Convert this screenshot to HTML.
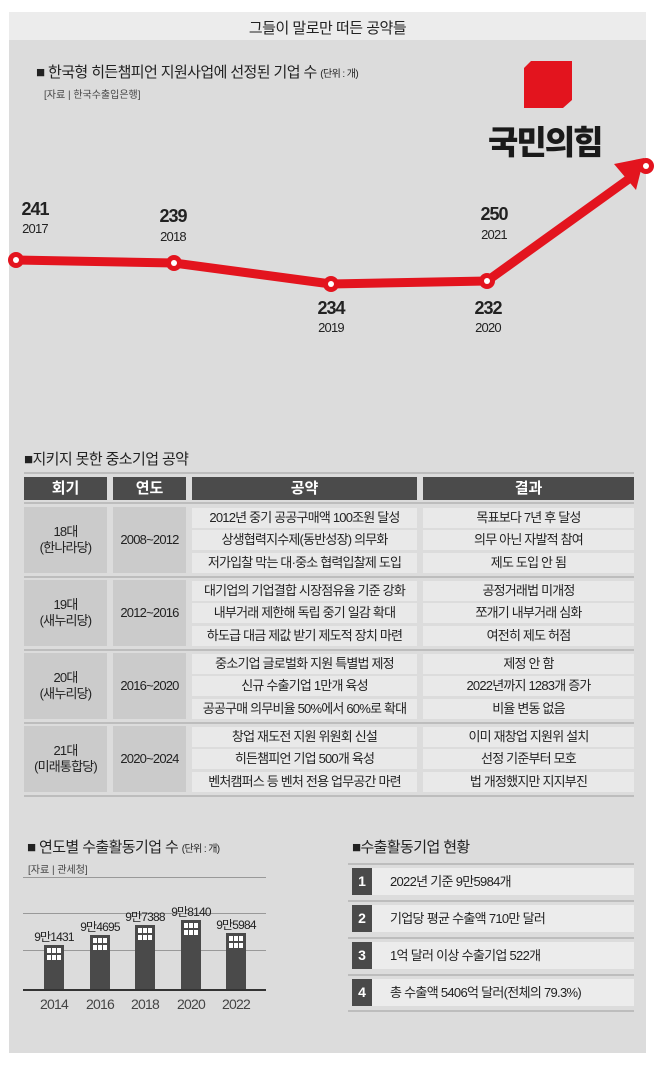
<!DOCTYPE html>
<html><head><meta charset="utf-8"><style>
*{margin:0;padding:0;box-sizing:border-box}
body{width:658px;height:1065px;background:#fff;position:relative;overflow:hidden;font-family:"Liberation Sans","Noto Sans CJK KR",sans-serif;color:#222}
.a{position:absolute}
.c{position:absolute;text-align:center;white-space:nowrap}
.hd{position:absolute;background:#4b4b4b;color:#fff;font-size:15px;font-weight:bold;text-align:center;line-height:23px;top:477px;height:23px}
.g{position:absolute;background:#cbcbcb;display:flex;align-items:center;justify-content:center;text-align:center;font-size:13px;line-height:16px;letter-spacing:-0.8px}
.r{position:absolute;background:#e9e9e9;font-size:13px;text-align:center;height:20px;line-height:20px;letter-spacing:-0.8px;white-space:nowrap}
.sep{position:absolute;left:24px;width:610px;height:2px;background:#bdbdbd}
.yr{position:absolute;font-size:13px;letter-spacing:-0.8px;text-align:center;width:60px}
.val{position:absolute;font-size:18px;font-weight:bold;letter-spacing:-1px;text-align:center;width:60px}
.bar{position:absolute;background:#4a4a4a;width:20px}
.bl{position:absolute;font-size:12px;letter-spacing:-0.8px;text-align:center;width:60px}
.num{position:absolute;left:352px;width:20px;height:27px;background:#4a4a4a;color:#fff;font-weight:bold;font-size:14px;text-align:center;line-height:27px}
.row{position:absolute;left:352px;width:282px;height:27px;background:#ececec;font-size:13px;line-height:27px;padding-left:38px;letter-spacing:-0.7px}
.ln{position:absolute;left:348px;width:286px;height:2px;background:#bdbdbd}
</style></head><body>
<div class="a" style="left:9px;top:12px;width:637px;height:28px;background:#ececec"></div>
<div class="c" style="left:9px;top:17px;width:637px;font-size:15px;letter-spacing:-0.5px">그들이 말로만 떠든 공약들</div>
<div class="a" style="left:9px;top:40px;width:637px;height:1013px;background:#dcdcdc"></div>

<div class="a" style="left:36px;top:61px;font-size:15px;letter-spacing:-0.6px">■ 한국형 히든챔피언 지원사업에 선정된 기업 수 <span style="font-size:10px">(단위 : 개)</span></div>
<div class="a" style="left:44px;top:86px;font-size:10px;color:#444">[자료 | 한국수출입은행]</div>

<svg class="a" style="left:0;top:0" width="658" height="400">
<polygon points="531,61 572,61 572,100 563,108 524,108 524,68" fill="#e3141e"/>
<polyline points="16,260 174,263 331,284 487,281 633,176" fill="none" stroke="#e3141e" stroke-width="9" stroke-linejoin="round"/>
<polygon points="614,164 644,158 636,190" fill="#e3141e"/>
<g fill="#e3141e" stroke="none">
<circle cx="16" cy="260" r="8"/><circle cx="174" cy="263" r="8"/><circle cx="331" cy="284" r="8"/><circle cx="487" cy="281" r="8"/><circle cx="646" cy="166" r="8"/></g>
<g fill="#fff"><circle cx="16" cy="260" r="3"/><circle cx="174" cy="263" r="3"/><circle cx="331" cy="284" r="3"/><circle cx="487" cy="281" r="3"/><circle cx="646" cy="166" r="3"/></g>
</svg>
<div class="a" style="left:488px;top:116px;font-size:33px;font-weight:900;letter-spacing:-2px;color:#1a1a1a">국민의힘</div>

<div class="val" style="left:5px;top:199px">241</div><div class="yr" style="left:5px;top:221px">2017</div>
<div class="val" style="left:143px;top:206px">239</div><div class="yr" style="left:143px;top:229px">2018</div>
<div class="val" style="left:301px;top:298px">234</div><div class="yr" style="left:301px;top:320px">2019</div>
<div class="val" style="left:458px;top:298px">232</div><div class="yr" style="left:458px;top:320px">2020</div>
<div class="val" style="left:464px;top:204px">250</div><div class="yr" style="left:464px;top:227px">2021</div>

<div class="a" style="left:24px;top:448px;font-size:15px;letter-spacing:-0.6px">■지키지 못한 중소기업 공약</div>
<div class="sep" style="top:472px"></div>
<div class="hd" style="left:24px;width:83px">회기</div>
<div class="hd" style="left:113px;width:73px">연도</div>
<div class="hd" style="left:192px;width:225px">공약</div>
<div class="hd" style="left:423px;width:211px">결과</div>
<div class="sep" style="top:502px"></div>

<div class="g" style="left:24px;top:507px;width:83px;height:66px">18대<br>(한나라당)</div>
<div class="g" style="left:113px;top:507px;width:73px;height:66px">2008~2012</div>
<div class="r" style="left:192px;top:508px;width:225px">2012년 중기 공공구매액 100조원 달성</div>
<div class="r" style="left:192px;top:530px;width:225px">상생협력지수제(동반성장) 의무화</div>
<div class="r" style="left:192px;top:553px;width:225px">저가입찰 막는 대·중소 협력입찰제 도입</div>
<div class="r" style="left:423px;top:508px;width:211px">목표보다 7년 후 달성</div>
<div class="r" style="left:423px;top:530px;width:211px">의무 아닌 자발적 참여</div>
<div class="r" style="left:423px;top:553px;width:211px">제도 도입 안 됨</div>
<div class="sep" style="top:576px"></div>

<div class="g" style="left:24px;top:580px;width:83px;height:66px">19대<br>(새누리당)</div>
<div class="g" style="left:113px;top:580px;width:73px;height:66px">2012~2016</div>
<div class="r" style="left:192px;top:581px;width:225px">대기업의 기업결합 시장점유율 기준 강화</div>
<div class="r" style="left:192px;top:603px;width:225px">내부거래 제한해 독립 중기 일감 확대</div>
<div class="r" style="left:192px;top:626px;width:225px">하도급 대금 제값 받기 제도적 장치 마련</div>
<div class="r" style="left:423px;top:581px;width:211px">공정거래법 미개정</div>
<div class="r" style="left:423px;top:603px;width:211px">쪼개기 내부거래 심화</div>
<div class="r" style="left:423px;top:626px;width:211px">여전히 제도 허점</div>
<div class="sep" style="top:649px"></div>

<div class="g" style="left:24px;top:653px;width:83px;height:66px">20대<br>(새누리당)</div>
<div class="g" style="left:113px;top:653px;width:73px;height:66px">2016~2020</div>
<div class="r" style="left:192px;top:654px;width:225px">중소기업 글로벌화 지원 특별법 제정</div>
<div class="r" style="left:192px;top:676px;width:225px">신규 수출기업 1만개 육성</div>
<div class="r" style="left:192px;top:699px;width:225px">공공구매 의무비율 50%에서 60%로 확대</div>
<div class="r" style="left:423px;top:654px;width:211px">제정 안 함</div>
<div class="r" style="left:423px;top:676px;width:211px">2022년까지 1283개 증가</div>
<div class="r" style="left:423px;top:699px;width:211px">비율 변동 없음</div>
<div class="sep" style="top:722px"></div>

<div class="g" style="left:24px;top:726px;width:83px;height:66px">21대<br>(미래통합당)</div>
<div class="g" style="left:113px;top:726px;width:73px;height:66px">2020~2024</div>
<div class="r" style="left:192px;top:727px;width:225px">창업 재도전 지원 위원회 신설</div>
<div class="r" style="left:192px;top:749px;width:225px">히든챔피언 기업 500개 육성</div>
<div class="r" style="left:192px;top:772px;width:225px">벤처캠퍼스 등 벤처 전용 업무공간 마련</div>
<div class="r" style="left:423px;top:727px;width:211px">이미 재창업 지원위 설치</div>
<div class="r" style="left:423px;top:749px;width:211px">선정 기준부터 모호</div>
<div class="r" style="left:423px;top:772px;width:211px">법 개정했지만 지지부진</div>
<div class="sep" style="top:795px"></div>

<div class="a" style="left:27px;top:836px;font-size:15px;letter-spacing:-0.6px">■ 연도별 수출활동기업 수 <span style="font-size:10px">(단위 : 개)</span></div>
<div class="a" style="left:28px;top:861px;font-size:10px;color:#444">[자료 | 관세청]</div>
<div class="a" style="left:23px;top:877px;width:243px;height:1px;background:#999"></div>
<div class="a" style="left:23px;top:913px;width:243px;height:1px;background:#999"></div>
<div class="a" style="left:23px;top:950px;width:243px;height:1px;background:#999"></div>
<div class="bar" style="left:44px;top:945px;height:45px"></div>
<div class="bar" style="left:90px;top:935px;height:55px"></div>
<div class="bar" style="left:135px;top:925px;height:65px"></div>
<div class="bar" style="left:181px;top:920px;height:70px"></div>
<div class="bar" style="left:226px;top:933px;height:57px"></div>
<svg class="a" style="left:0;top:0" width="270" height="1000">
<g fill="#fff">
<rect x="47" y="948" width="4" height="5"/><rect x="52" y="948" width="4" height="5"/><rect x="57" y="948" width="4" height="5"/><rect x="47" y="955" width="4" height="5"/><rect x="52" y="955" width="4" height="5"/><rect x="57" y="955" width="4" height="5"/>
<rect x="93" y="938" width="4" height="5"/><rect x="98" y="938" width="4" height="5"/><rect x="103" y="938" width="4" height="5"/><rect x="93" y="945" width="4" height="5"/><rect x="98" y="945" width="4" height="5"/><rect x="103" y="945" width="4" height="5"/>
<rect x="138" y="928" width="4" height="5"/><rect x="143" y="928" width="4" height="5"/><rect x="148" y="928" width="4" height="5"/><rect x="138" y="935" width="4" height="5"/><rect x="143" y="935" width="4" height="5"/><rect x="148" y="935" width="4" height="5"/>
<rect x="184" y="923" width="4" height="5"/><rect x="189" y="923" width="4" height="5"/><rect x="194" y="923" width="4" height="5"/><rect x="184" y="930" width="4" height="5"/><rect x="189" y="930" width="4" height="5"/><rect x="194" y="930" width="4" height="5"/>
<rect x="229" y="936" width="4" height="5"/><rect x="234" y="936" width="4" height="5"/><rect x="239" y="936" width="4" height="5"/><rect x="229" y="943" width="4" height="5"/><rect x="234" y="943" width="4" height="5"/><rect x="239" y="943" width="4" height="5"/>
</g></svg>
<div class="a" style="left:23px;top:989px;width:243px;height:2px;background:#333"></div>
<div class="bl" style="left:24px;top:928px">9만1431</div>
<div class="bl" style="left:70px;top:918px">9만4695</div>
<div class="bl" style="left:115px;top:908px">9만7388</div>
<div class="bl" style="left:161px;top:903px">9만8140</div>
<div class="bl" style="left:206px;top:916px">9만5984</div>
<div class="yr" style="left:24px;top:996px;font-size:14px;color:#444">2014</div>
<div class="yr" style="left:70px;top:996px;font-size:14px;color:#444">2016</div>
<div class="yr" style="left:115px;top:996px;font-size:14px;color:#444">2018</div>
<div class="yr" style="left:161px;top:996px;font-size:14px;color:#444">2020</div>
<div class="yr" style="left:206px;top:996px;font-size:14px;color:#444">2022</div>

<div class="a" style="left:352px;top:836px;font-size:15px;letter-spacing:-0.6px">■수출활동기업 현황</div>
<div class="ln" style="top:863px"></div>
<div class="row" style="top:868px">2022년 기준 9만5984개</div><div class="num" style="top:868px">1</div>
<div class="ln" style="top:900px"></div>
<div class="row" style="top:905px">기업당 평균 수출액 710만 달러</div><div class="num" style="top:905px">2</div>
<div class="ln" style="top:937px"></div>
<div class="row" style="top:942px">1억 달러 이상 수출기업 522개</div><div class="num" style="top:942px">3</div>
<div class="ln" style="top:974px"></div>
<div class="row" style="top:979px">총 수출액 5406억 달러(전체의 79.3%)</div><div class="num" style="top:979px">4</div>
<div class="ln" style="top:1010px"></div>
</body></html>
